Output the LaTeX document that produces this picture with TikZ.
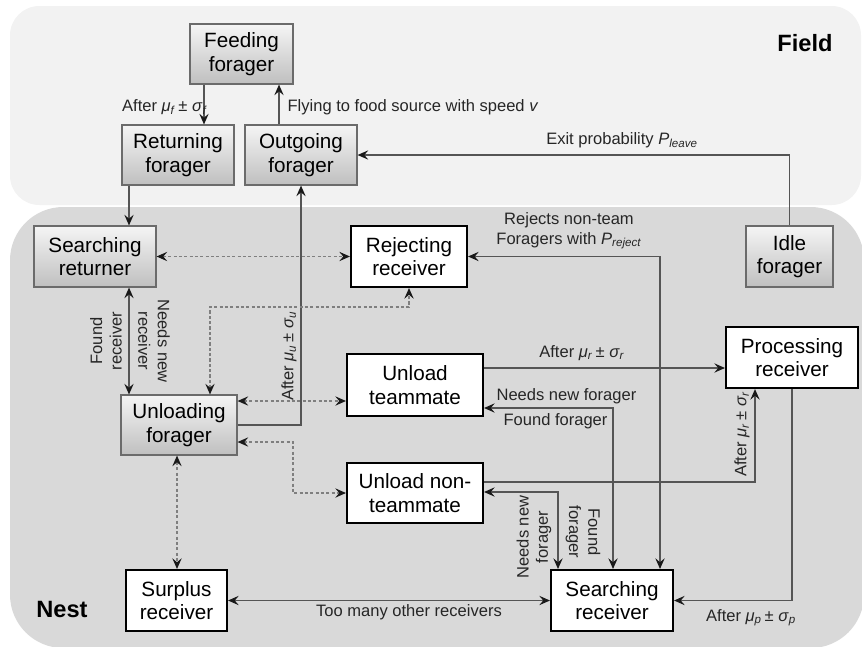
\documentclass[tikz,border=0pt]{standalone}
\usepackage{fontspec}
\setmainfont{Liberation Sans}
\usetikzlibrary{arrows.meta}
\newcommand{\gs}[2]{\textit{#1}\textsubscript{\textit{#2}}}
\def\px{0.75pt}
\definecolor{fieldc}{HTML}{F2F2F2}
\definecolor{nestc}{HTML}{D9D9D9}
\definecolor{linec}{HTML}{555555}
\definecolor{dashc}{HTML}{7F7F7F}
\tikzset{
  boxfont/.style={font=\fontsize{15.5}{17.5}\selectfont},
  graybox/.style={boxfont, draw=black!58, line width=0.9pt, top color=black!4, bottom color=black!25,
    align=center, inner sep=0pt},
  whitebox/.style={boxfont, draw=black, line width=1.6pt, fill=white, align=center, inner sep=0pt},
  lab/.style={font=\fontsize{12.4}{14.5}\selectfont, align=center, inner sep=1pt, text=black!85},
  ttl/.style={font=\fontsize{17.7}{20}\selectfont\bfseries},
  tip/.tip={Stealth[length=8pt,width=7pt,inset=3pt,color=black!90]},
  arr/.style={draw=linec, line width=0.8pt, -tip},
  darr/.style={draw=linec, line width=0.8pt, tip-tip},
  ddash/.style={draw=dashc, line width=0.8pt, dash pattern=on 2.4pt off 1.6pt, tip-tip},
}
\begin{document}
\begin{tikzpicture}[x=0.75pt,y=-0.75pt]
\useasboundingbox (0,0) rectangle (862,646);
% regions
\fill[fieldc, rounded corners=22pt] (10,6) rectangle (861,205);
\fill[nestc, rounded corners=40pt] (10,207) rectangle (864,648);
\node[ttl] (tfield) at (805,43) {Field};
\node[ttl] (tnest) at (62,609) {Nest};
% nodes
\node[graybox, minimum width=103*\px, minimum height=60*\px] (feed) at (241.5,54) {Feeding\\forager};
\node[graybox, minimum width=112*\px, minimum height=60*\px] (ret) at (178,155) {Returning\\forager};
\node[graybox, minimum width=112*\px, minimum height=60*\px] (out) at (301,155) {Outgoing\\forager};
\node[graybox, minimum width=87*\px, minimum height=61*\px] (idle) at (789.5,256.5) {Idle\\forager};
\node[graybox, minimum width=122*\px, minimum height=61*\px] (sret) at (95,256.5) {Searching\\returner};
\node[whitebox, minimum width=116*\px, minimum height=61*\px] (rej) at (409,256.5) {Rejecting\\receiver};
\node[graybox, minimum width=116*\px, minimum height=60*\px] (unl) at (179,425) {Unloading\\forager};
\node[whitebox, minimum width=136*\px, minimum height=62*\px] (ut) at (415,385) {Unload\\teammate};
\node[whitebox, minimum width=136*\px, minimum height=60*\px] (unt) at (415,493) {Unload non-\\teammate};
\node[whitebox, minimum width=132*\px, minimum height=61*\px] (proc) at (792,357.5) {Processing\\receiver};
\node[whitebox, minimum width=101*\px, minimum height=61*\px] (sur) at (176.5,600.5) {Surplus\\receiver};
\node[whitebox, minimum width=122*\px, minimum height=61*\px] (srec) at (612,600.5) {Searching\\receiver};
% helper coordinates
\coordinate (xa) at (204,0);
\coordinate (xb) at (279,0);
\coordinate (xc) at (129,0);
\coordinate (xd) at (301,0);
\coordinate (xe) at (210,0);
\coordinate (ye) at (0,307);
\coordinate (yf) at (0,401);
\coordinate (yg) at (0,442);
\coordinate (xg) at (293,0);
\coordinate (xh) at (177,0);
\coordinate (yi) at (0,368);
\coordinate (yj) at (0,408);
\coordinate (xj) at (613,0);
\coordinate (yk) at (0,492);
\coordinate (xk) at (558,0);
\coordinate (xl) at (660,0);
\coordinate (ym) at (0,482);
\coordinate (xm) at (755,0);
% connectors
\draw[arr] (feed.south -| xa) -- (ret.north -| xa);
\draw[arr] (out.north -| xb) -- (feed.south -| xb);
\draw[arr] (idle.north) |- (out.east);
\draw[arr] (ret.south -| xc) -- (sret.north -| xc);
\draw[darr] (sret.south -| xc) -- (unl.north -| xc);
\draw[arr] (unl.east) -| (out.south -| xd);
\draw[ddash] (sret.east) -- (rej.west);
\draw[ddash] (unl.north -| xe) -- (xe |- ye) -- (rej.south |- ye) -- (rej.south);
\draw[ddash] (unl.east |- yf) -- (ut.west |- yf);
\draw[ddash] (unl.east |- yg) -| (unt.west -| xg) -- (unt.west);
\draw[ddash] (unl.south -| xh) -- (sur.north -| xh);
\draw[darr] (sur.east) -- (srec.west);
\draw[arr] (ut.east |- yi) -- (proc.west |- yi);
\draw[darr] (ut.east |- yj) -| (srec.north -| xj);
\draw[darr] (unt.east |- yk) -| (srec.north -| xk);
\draw[darr] (rej.east) -| (srec.north -| xl);
\draw[arr] (unt.east |- ym) -| (proc.south -| xm);
\draw[arr] (proc.south) |- (srec.east);
% labels
\node[lab, anchor=east] (l1) at (209,107) {After \gs{μ}{f}\,± \gs{σ}{f}};
\node[lab, anchor=west] (l2) at (286,107) {Flying to food source with speed \textit{v}};
\node[lab] (l3) at (622,140) {Exit probability \gs{P}{leave}};
\node[lab, rotate=90] (l4) at (106,341) {Found\\receiver};
\node[lab, rotate=-90] (l5) at (154,341) {Needs new\\receiver};
\node[lab, rotate=90] (l6) at (289,356) {After \gs{μ}{u}\,± \gs{σ}{u}};
\node[lab] (l7) at (569,231) {Rejects non-team\\Foragers with \gs{P}{reject}};
\node[lab] (l8) at (582,353) {After \gs{μ}{r}\,± \gs{σ}{r}};
\node[lab, anchor=west] (l9) at (495,396) {Needs new forager};
\node[lab, anchor=west] (l10) at (502,421) {Found forager};
\node[lab, rotate=90] (l11) at (534,537) {Needs new\\forager};
\node[lab, rotate=-90] (l12) at (583,532) {Found\\forager};
\node[lab, rotate=90] (l13) at (742,434) {After \gs{μ}{r}\,± \gs{σ}{r}};
\node[lab] (l14) at (409,612) {Too many other receivers};
\node[lab] (l15) at (751,618) {After \gs{μ}{p}\,± \gs{σ}{p}};
\end{tikzpicture}
\end{document}
